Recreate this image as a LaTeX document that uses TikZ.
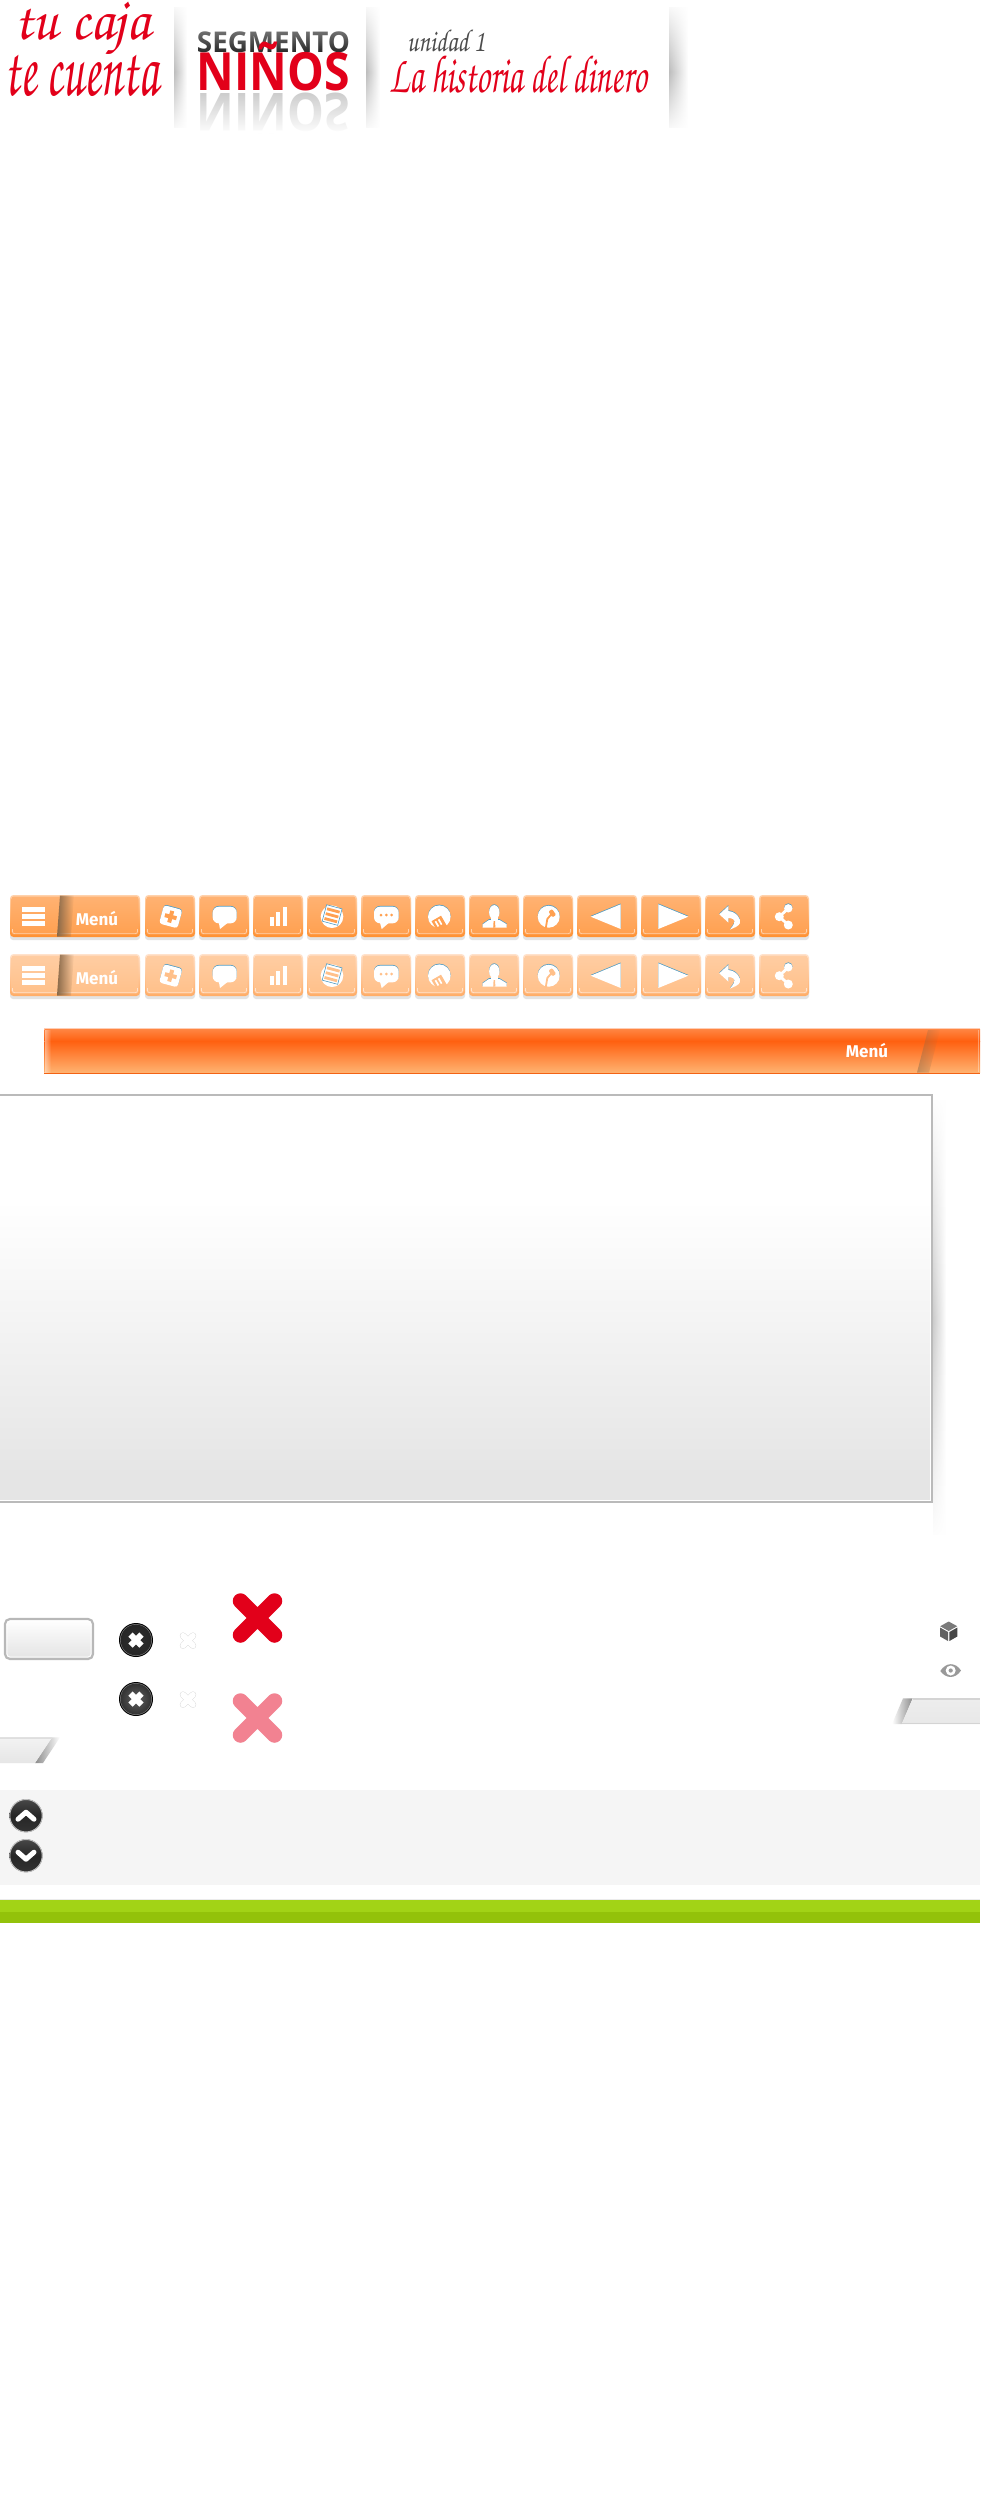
\documentclass[tikz,border=0pt]{standalone}
\usepackage{fontspec}
\usepackage{graphicx}
\usetikzlibrary{fadings}
\setmainfont{Open Sans}
\newfontfamily\menufont{Fira Sans}
\newfontfamily\logofont{Open Sans}
\newcommand\handfont{\usefont{T1}{pzc}{mb}{it}}
\newcommand\fitbox[3]{\resizebox{#1pt}{#2pt}{\raisebox{\depth}{#3}}}
\definecolor{logored}{HTML}{E2001A}
\definecolor{iconblue}{HTML}{4F9CC4}
\definecolor{pinkx}{HTML}{F28291}
\definecolor{grnA}{HTML}{A2D316}
\definecolor{grnB}{HTML}{93C20A}
\definecolor{band}{HTML}{F5F5F5}
\definecolor{barTop}{HTML}{FF8440}
\definecolor{barA}{HTML}{FF6010}
\definecolor{barB}{HTML}{FFB270}
\definecolor{barLine}{HTML}{F36214}
\definecolor{barEdge}{HTML}{FFCDB4}
\definecolor{slashbrown}{HTML}{8A6A4A}
\tikzset{
  x=1pt,y=-1pt,
  txt/.style={inner sep=0pt,outer sep=0pt,anchor=center},
  slashfade/.style={fill=#1,path fading=east},
}
% white icon with a thin blue edge above it
\newcommand\ic[1]{\fill[iconblue,yshift=.8pt] #1; \fill[white] #1;}
% one orange button
\newcommand\btn[2]{%
  \fill[fill=black!11,rounded corners=3pt] (#1,899) rectangle (#2,940);
  \shade[top color=bedgeT,bottom color=bedgeB,rounded corners=3.5pt] (#1,895) rectangle (#2,937);
  \shade[top color=bfillT,bottom color=bfillB,rounded corners=2.5pt] (#1+1.5,896.5) rectangle (#2-1.5,934.5);
  \draw[bedgeT,line width=.7pt,rounded corners=2pt] (#1+2.5,929) -- (#1+2.5,933.6) -- (#2-2.5,933.6) -- (#2-2.5,929);
}
% the whole button row
\newcommand\buttonrow{%
  \btn{10}{140}
  \fill[slashfade=slashbrown] (60,895.5) -- (57,936.5) -- (71,936.5) -- (74,895.5) -- cycle;
  \ic{(22,907.3) rectangle (45,912.3)}
  \ic{(22,914.3) rectangle (45,919.3)}
  \ic{(22,921.3) rectangle (45,926.3)}
  \node[txt,text=white,font=\menufont\bfseries\fontsize{17}{17}\selectfont] (menu\rowname) at (97,918.5) {Menú};
  \btn{145}{195}
  \begin{scope}[shift={(170.7,916.7)},rotate=-15]
    \ic{[rounded corners=3pt] (-9.5,-9.5) rectangle (9.5,9.5)}
    \fill[bfillB] (-6,-2) rectangle (6,2); \fill[bfillB] (-2,-6) rectangle (2,6);
  \end{scope}
  \btn{199}{249}
  \ic{[rounded corners=6pt] (212.7,906.7) rectangle (236.7,923.3)}
  \fill[white] (218.5,921) -- (220,929) -- (230,921) -- cycle;
  \btn{253}{303}
  \ic{(270,917.3) rectangle (274,925.7)}
  \ic{(276,912.3) rectangle (280,925.7)}
  \ic{(282.7,907.3) rectangle (287.3,925.7)}
  \btn{307}{357}
  \fill[white] (332,916.7) circle (11.3);
  \begin{scope}[shift={(332,915.5)},rotate=-15]
    \fill[white,draw=iconblue,line width=.6pt] (-8,-9) rectangle (8,8);
    \fill[bfillB] (-6.5,-6.6) rectangle (6.5,-3.8);
    \fill[bfillB] (-6.5,-1.6) rectangle (6.5,1.2);
    \fill[bfillB] (-6.5,3.4) rectangle (6.5,6.2);
  \end{scope}
  \btn{361}{411}
  \ic{[rounded corners=6pt] (374,906.7) rectangle (398.7,923.3)}
  \fill[white] (379.5,921) -- (381.7,929) -- (391,921) -- cycle;
  \fill[bfillB] (381,915) circle (1.5) (386.3,915) circle (1.5) (391.7,915) circle (1.5);
  \btn{415}{465}
  \ic{(439.3,916.7) circle (11.3)}
  \begin{scope}[shift={(439.3,916.7)},rotate=30]
    \fill[bfillB] (-9,0) rectangle (2,13);
    \fill[white] (-6.5,2) rectangle (-4.8,8) (-2.8,2) rectangle (-1.1,8);
  \end{scope}
  \btn{469}{519}
  \ic{(494.3,912.3) ellipse (5.2 and 7.2)}
  \ic{(482.7,927.7) -- (482.7,924.3) -- (489,920) -- (499.6,920) -- (506.7,924.3) -- (506.7,927.7) -- cycle}
  \fill[white] (491,916) rectangle (497.6,922);
  \fill[bfillB] (493.6,921) -- (495,921) -- (495.4,927.7) -- (493.2,927.7) -- cycle;
  \btn{523}{573}
  \ic{(548.7,916.7) circle (11)}
  \draw[bfillB,line width=1.8pt] (545.7,928.5) -- (547.3,919) -- (552,913.5);
  \begin{scope}[shift={(552.3,913.2)},rotate=35]
    \fill[bfillB,rounded corners=1pt] (-2.2,-3.5) rectangle (2.2,3.5);
  \end{scope}
  \btn{577}{637}
  \ic{(590.7,916.7) -- (620.7,904.3) -- (620.7,929) -- cycle}
  \btn{641}{701}
  \ic{(658.3,904.3) -- (688.3,916.7) -- (658.3,929) -- cycle}
  \btn{705}{755}
  \ic{(719.3,914.3) -- (728.3,906) -- (728.3,911) .. controls (737,912) and (741,919) .. (740,923) .. controls (739,926) and (734,928) .. (730,929.5) .. controls (734,925) and (736,921) .. (733,919) .. controls (731,918) and (729,918) .. (728.3,918) -- (728.3,922.5) -- cycle}
  \btn{759}{809}
  \draw[white,line width=2.8pt] (788.3,908.3) -- (779.3,916.7) -- (788.3,925);
  \ic{(788.3,908.3) circle (4.2)}
  \fill[white] (779.3,916.7) circle (4.5) (788.3,925) circle (4.5);
}
% round dark button with a white cross
\newcommand\crossdisc[4]{%
  \fill[black] (#1,#2) circle (17);
  \fill[black!55] (#1,#2) circle (16);
  \shade[inner color=#3,outer color=#4] (#1,#2) circle (15.3);
  \draw[white,line width=6pt] (#1-5.5,#2-5.5) -- (#1+5.5,#2+5.5) (#1-5.5,#2+5.5) -- (#1+5.5,#2-5.5);
}
\newcommand\ghostx[2]{%
  \draw[black!16,line width=6.3pt,line cap=round] (#1-5,#2-5) -- (#1+5,#2+5) (#1-5,#2+5) -- (#1+5,#2-5);
  \draw[white,line width=5.5pt,line cap=round] (#1-5,#2-5) -- (#1+5,#2+5) (#1-5,#2+5) -- (#1+5,#2-5);
}
% soft vertical shadow: the grey part stops short of the ends of the white fades
\newcommand\vfadeshadow[6]{% x1 x2 y1 ymid y2 strength
  \shade[left color=black!#6,right color=white] (#1,#3+6) rectangle (#2,#5-6);
  \fill[white,path fading=south] (#1-.5,#3-.5) rectangle (#2+.5,#4);
  \fill[white,path fading=north] (#1-.5,#4) rectangle (#2+.5,#5+.5);
}
\newcommand\chevdisc[3]{%
  \shade[top color=black!72,bottom color=black!80,middle color=black!85] (#1,#2) circle (16.5);
  \draw[black!25,line width=.9pt] (#1,#2) circle (16.2);
  \draw[white,line width=5pt,line join=round,line cap=round] (#1-8,#2+#3*3.5) -- (#1,#2-#3*3.5) -- (#1+8,#2+#3*3.5);
}
\begin{document}
\begin{tikzpicture}
\useasboundingbox (0,0) rectangle (980,2500);
\fill[white] (0,0) rectangle (980,2500);

% ---------- header logos
\node[txt,text=logored] (tucaja) at (82.5,30) {\fitbox{135}{56}{\handfont tu caja}};
\node[txt,text=logored] (tecuenta) at (81.5,74) {\fitbox{153}{46}{\handfont te cuenta}};
\vfadeshadow{174}{187}{1}{72}{133}{26}
\vfadeshadow{366}{380}{1}{72}{133}{26}
\vfadeshadow{669}{688}{1}{72}{133}{26}
% reflection
\node[txt,text=black!20,yscale=-1] (reflect) at (273.5,117.5) {\fitbox{153}{49}{\logofont\bfseries NIÑOS}};
\fill[white,path fading=north] (190,92) rectangle (358,134);
\fill[white] (190,133.5) rectangle (358,146);
% titles
\node[txt,text=black!85] (segmento) at (273.5,42.5) {\fitbox{153}{21}{\logofont\bfseries SEGMENTO}};
\fill[white,fill opacity=.35,path fading=south] (195,31) rectangle (352,53);
\node[txt,text=logored] (ninos) at (273.5,66.5) {\fitbox{153}{49}{\logofont\bfseries NIÑOS}};
\node[txt,text=black!70] (unidad) at (446,40.5) {\fitbox{78}{23}{\handfont unidad 1}};
\node[txt,text=logored] (historia) at (518.5,73.5) {\fitbox{257}{39}{\handfont La historia del dinero}};

% ---------- button rows
\begin{scope}
  \definecolor{bedgeT}{HTML}{FFD2AC}\definecolor{bedgeB}{HTML}{FF9030}
  \definecolor{bfillT}{HTML}{FFB272}\definecolor{bfillB}{HTML}{FFA050}
  \def\rowname{A}
  \buttonrow
\end{scope}
\begin{scope}[yshift=-59pt]
  \definecolor{bedgeT}{HTML}{FFE2CC}\definecolor{bedgeB}{HTML}{FFAC66}
  \definecolor{bfillT}{HTML}{FFCDA2}\definecolor{bfillB}{HTML}{FFC08A}
  \def\rowname{B}
  \buttonrow
\end{scope}

% ---------- orange bar
\fill[barEdge] (43.5,1028.3) rectangle (980,1073.7);
\shade[top color=barTop,bottom color=barA] (44.5,1029.5) rectangle (980,1041);
\shade[top color=barA,bottom color=barB] (44.5,1041) rectangle (980,1072.5);
\fill[white,fill opacity=.45,path fading=east] (44.5,1029.5) rectangle (51,1072.5);
\fill[barLine] (43.5,1072.6) rectangle (980,1073.7);
\fill[slashfade=slashbrown,fill opacity=.5] (928,1030) -- (917,1072.5) -- (929,1072.5) -- (940,1030) -- cycle;
\fill[white,fill opacity=.35] (977.5,1030) rectangle (978.5,1072);
\node[txt,text=white,font=\menufont\bfseries\fontsize{17}{17}\selectfont] (menuC) at (867,1050.5) {Menú};

% ---------- large panel
\vfadeshadow{933}{946}{1094}{1320}{1540}{20}
\fill[black!27] (-2,1094.3) rectangle (933.2,1503);
\fill[white] (-2,1095.5) rectangle (931,1501);
\shade[top color=white,bottom color=black!10] (-2,1200) rectangle (929.5,1470);
\fill[black!10] (-2,1470) rectangle (929.5,1500);

% ---------- controls
\draw[black!28,line width=2.2pt,rounded corners=5pt,top color=white,bottom color=black!11] (5,1619) rectangle (93,1659);
\draw[white,line width=.8pt,rounded corners=3pt] (7,1621) rectangle (91,1657);
\crossdisc{136}{1640}{black!82}{black!85}
\crossdisc{136}{1699}{black!62}{black!80}
\ghostx{188}{1640.6}
\ghostx{188}{1699.6}
\draw[logored,line width=15.5pt,line cap=round] (240.5,1601) -- (274.5,1635) (240.5,1635) -- (274.5,1601);
\draw[pinkx,line width=15.5pt,line cap=round] (240.5,1701) -- (274.5,1735) (240.5,1735) -- (274.5,1701);

% ---------- tabs
\begin{scope}
  \fill[slashfade=black!45] (52,1737.3) -- (35,1763) -- (43,1763) -- (60,1737.3) -- cycle;
  \shade[top color=black!5,bottom color=black!10] (0,1737.5) -- (52,1737.5) -- (35,1763) -- (0,1763) -- cycle;
  \fill[black!17] (0,1737.3) -- (52,1737.3) -- (51.2,1738.5) -- (0,1738.5) -- cycle;
\end{scope}
\fill[black!45,path fading=west] (912.7,1698.3) -- (901.7,1724) -- (892,1724) -- (903,1698.3) -- cycle;
\shade[top color=black!7,bottom color=black!9] (912.7,1698.5) -- (980,1698.5) -- (980,1724) -- (901.7,1724) -- cycle;
\fill[black!17] (912.6,1698.3) rectangle (980,1699.6);
\fill[black!17] (902,1722.9) rectangle (980,1724);

% ---------- small grey icons
\fill[black!52] (948.7,1621.5) -- (957.2,1626.2) -- (948.7,1631) -- (940.2,1626.2) -- cycle;
\fill[black!62] (940,1627.5) -- (948,1632) -- (948,1641) -- (940,1636.4) -- cycle;
\fill[black!72] (957.4,1627.5) -- (949.4,1632) -- (949.4,1641) -- (957.4,1636.4) -- cycle;
\fill[black!40] (940.3,1671) .. controls (946,1662) and (955.5,1662) .. (961,1670.5) .. controls (955.5,1679) and (946,1679) .. (940.3,1671) -- cycle;
\fill[white] (950.7,1670.5) circle (5);
\fill[black!40] (950.7,1670.5) circle (2.1);

% ---------- grey band and green bar
\fill[band] (0,1790) rectangle (980,1885);
\chevdisc{26}{1815.7}{1}
\chevdisc{26}{1855.7}{-1}
\fill[black!8] (0,1899) rectangle (980,1899.5);
\fill[grnA] (0,1899.5) rectangle (980,1911.7);
\fill[grnB] (0,1911.7) rectangle (980,1922.7);
\end{tikzpicture}
\end{document}
